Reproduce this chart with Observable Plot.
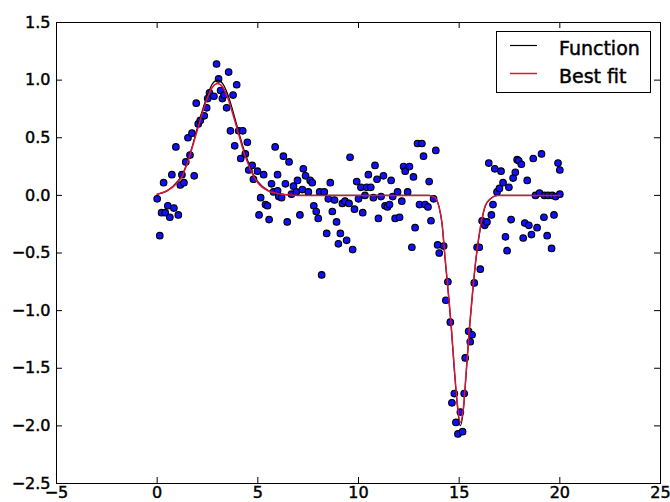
<!DOCTYPE html>
<html><head><meta charset="utf-8">
<script src="https://cdn.jsdelivr.net/npm/d3@7"></script>
<script src="https://cdn.jsdelivr.net/npm/@observablehq/plot@0.6"></script>
<style>
html,body{margin:0;padding:0;background:#fff;}
#wrap{position:relative;width:670px;height:502px;}
#wrap svg{display:block;}
#wrap text{stroke:#000;stroke-width:0.45px;}
#legend{position:absolute;left:0;top:0;pointer-events:none;}
</style></head><body><div id="wrap"></div>
<script>
// Scatter samples [x, y]
const scatter = [
[0.00,-0.03],[0.13,-0.35],[0.22,-0.15],[0.32,0.11],[0.40,-0.15],[0.53,-0.09],[0.63,-0.19],[0.73,0.18],[0.83,-0.11],[0.93,0.42],
[1.05,-0.17],[1.15,0.09],[1.23,0.18],[1.33,0.11],[1.42,0.29],[1.53,0.50],[1.63,0.35],[1.73,0.54],[1.84,0.17],[1.94,0.80],
[2.04,0.62],[2.14,0.65],[2.34,0.69],[2.46,0.76],[2.51,0.84],[2.60,0.89],[2.82,0.86],[2.95,1.14],[3.05,1.01],[3.15,0.91],
[3.24,0.84],[3.32,0.87],[3.45,0.76],[3.55,1.07],[3.64,0.56],[3.77,0.87],[3.85,0.43],[3.95,0.96],[4.05,0.56],[4.15,0.32],
[4.25,0.56],[4.38,0.36],[4.48,0.46],[4.55,0.22],[4.72,0.26],[4.78,0.14],[4.98,0.21],[5.06,-0.17],[5.14,-0.02],[5.29,0.18],
[5.38,-0.08],[5.48,-0.09],[5.56,-0.21],[5.68,0.10],[5.78,0.03],[5.86,0.42],[5.98,0.18],[5.98,0.04],[6.04,-0.01],[6.18,-0.02],
[6.27,0.34],[6.37,0.10],[6.46,-0.23],[6.55,0.29],
[6.67,0.01],[6.77,0.08],[6.91,0.03],[6.97,0.13],[7.09,-0.17],[7.21,0.05],[7.26,0.23],[7.37,0.17],[7.51,0.03],[7.60,0.13],
[7.70,0.11],[7.78,-0.09],[7.90,-0.14],[8.00,-0.20],[8.07,0.03],[8.17,-0.69],[8.30,0.03],[8.42,-0.33],[8.50,-0.03],[8.60,0.11],
[8.70,-0.14],[8.81,-0.04],[8.91,-0.23],[9.00,-0.42],[9.10,-0.33],[9.20,-0.07],[9.33,-0.05],[9.41,-0.39],[9.53,-0.07],[9.58,0.33],
[9.71,-0.47],[9.80,-0.12],[9.91,0.12],[10.00,-0.03],[10.12,0.07],[10.21,-0.15],[10.32,0.00],[10.41,0.07],[10.49,0.18],[10.61,0.07],
[10.74,-0.02],[10.82,0.26],[10.92,0.14],[10.99,-0.20],[11.12,-0.01],[11.24,0.17],[11.32,-0.09],[11.44,-0.10],[11.54,-0.08],[11.62,0.13],
[11.70,-0.01],[11.82,-0.20],[11.94,0.03],[12.04,-0.19],[12.15,-0.05],[12.24,0.25],[12.32,0.21],[12.44,0.03],[12.53,0.25],[12.65,-0.45],
[12.73,0.16],[12.81,-0.28],[12.93,0.45],[13.03,-0.08],[13.15,0.45],[13.23,0.34],[13.31,-0.08],[13.45,-0.10],[13.51,0.12],[13.60,-0.22],
[13.73,-0.03],[13.84,0.39],
[13.93,-0.43],[14.01,-0.50],[14.23,-0.44],[14.34,-0.91],[14.44,-0.75],[14.56,-1.10],[14.64,-1.80],[14.76,-1.72],[14.84,-1.97],[14.94,-2.07],
[15.06,-1.88],[15.17,-2.05],[15.25,-1.72],[15.30,-1.41],[15.47,-1.18],[15.55,-1.27],[15.64,-1.21],[15.75,-0.76],[15.89,-0.45],[16.00,-0.45],
[16.05,-0.64],[16.14,-0.22],[16.27,-0.26],[16.38,-0.23],[16.47,0.28],[16.60,-0.17],[16.68,-0.08],[16.77,0.23],[16.88,0.03],[17.00,0.06],
[17.08,0.21],[17.18,0.11],[17.30,-0.36],[17.38,-0.48],[17.47,0.07],[17.58,-0.21],[17.68,0.15],[17.79,0.20],[17.88,0.31],[17.96,0.30],
[18.09,0.27],[18.18,-0.37],[18.26,-0.24],[18.38,0.13],[18.46,-0.26],[18.59,-0.34],[18.68,0.32],[18.79,0.00],[18.87,-0.28],[18.99,0.02],
[19.09,0.36],[19.21,-0.19],[19.24,0.00],[19.37,-0.35],[19.42,0.00],[19.59,-0.46],[19.62,0.00],[19.71,-0.17],[19.79,-0.01],[19.91,0.28],
[20.00,0.01],[20.00,0.22]
];

// Curves
const curveX    = [0,0.5,1,1.25,1.5,1.75,2,2.25,2.5,2.75,3,3.25,3.5,3.75,4,4.25,4.5,4.75,5,5.5,6,6.5,7,8,9,10,11,12,13,13.5,13.8,14,14.15,14.3,14.45,14.6,14.75,14.9,15.05,15.2,15.35,15.5,15.65,15.8,15.95,16.1,16.3,16.55,16.9,17.5,18,19,20];
const functionY = [0.01,0.04,0.12,0.18,0.29,0.43,0.59,0.74,0.87,0.97,1.00,0.97,0.88,0.74,0.58,0.43,0.30,0.19,0.12,0.045,0.015,0.005,0,0,0,0,0,0,0,0,-0.02,-0.10,-0.25,-0.55,-0.83,-1.13,-1.49,-1.81,-2.00,-1.88,-1.54,-1.18,-0.88,-0.61,-0.40,-0.24,-0.09,-0.03,0,0,0,0,0];
const fitY      = [0.01,0.04,0.11,0.17,0.28,0.42,0.57,0.72,0.85,0.94,0.97,0.94,0.85,0.71,0.56,0.41,0.28,0.18,0.11,0.04,0.015,0.005,0,0,0,0,0,0,0,0,-0.02,-0.10,-0.24,-0.54,-0.82,-1.12,-1.48,-1.79,-1.97,-1.86,-1.53,-1.17,-0.87,-0.60,-0.39,-0.23,-0.09,-0.03,0,0,0,0,0];

const xTicks = [-5,0,5,10,15,20,25];
const xTickLabels = ["\u22125","0","5","10","15","20","25"];
const yTicks = [1.5,1,0.5,0,-0.5,-1,-1.5,-2,-2.5];
const yTickLabels = ["1.5","1.0","0.5","0.0","\u22120.5","\u22121.0","\u22121.5","\u22122.0","\u22122.5"];
const legendLabels = ["Function","Best fit"];
const legendColors = ["#000000","#dc143c"];

const W = 670, H = 502, mL = 56, mR = 10, mT = 22, mB = 19;
const fw = W - mL - mR, fh = H - mT - mB, tick = 6;

const pts = scatter.map(([x, y]) => ({x, y}));
const curve = curveX.map((x, i) => ({x, fn: functionY[i], fit: fitY[i]}));

const chart = Plot.plot({
  width: W, height: H,
  marginLeft: mL, marginRight: mR, marginTop: mT, marginBottom: mB,
  style: {fontFamily: "DejaVu Sans", fontSize: "16px", color: "black", background: "white", overflow: "visible"},
  x: {domain: [-5, 25], label: null},
  y: {domain: [-2.5, 1.5], label: null},
  marks: [
    Plot.dot(pts, {x: "x", y: "y", r: 3.3, fill: "#1010ff", stroke: "black", strokeWidth: 1.1}),
    Plot.line(curve, {x: "x", y: "fn", stroke: "black", strokeWidth: 1.2, curve: "monotone-x"}),
    Plot.line(curve, {x: "x", y: "fit", stroke: legendColors[1], strokeWidth: 1.5, curve: "monotone-x"}),
    Plot.frame({stroke: "black", strokeWidth: 1}),
    Plot.ruleX(xTicks, {x: d => d, insetTop: fh - tick, stroke: "black"}),
    Plot.ruleX(xTicks, {x: d => d, insetBottom: fh - tick, stroke: "black"}),
    Plot.ruleY(yTicks, {y: d => d, insetRight: fw - tick, stroke: "black"}),
    Plot.ruleY(yTicks, {y: d => d, insetLeft: fw - tick, stroke: "black"}),
    Plot.axisX(xTicks, {tickSize: 0, tickPadding: 3, tickFormat: d => xTickLabels[xTicks.indexOf(d)]}),
    Plot.axisY(yTicks, {tickSize: 0, tickPadding: 6, tickFormat: d => yTickLabels[yTicks.indexOf(d)]})
  ]
});
const wrap = document.getElementById("wrap");
wrap.appendChild(chart);

// Legend inside the axes (upper right)
const ns = "http://www.w3.org/2000/svg";
const lg = document.createElementNS(ns, "svg");
lg.setAttribute("id", "legend");
lg.setAttribute("width", W); lg.setAttribute("height", H);
const box = document.createElementNS(ns, "rect");
box.setAttribute("x", 496.5); box.setAttribute("y", 31.5);
box.setAttribute("width", 154); box.setAttribute("height", 61);
box.setAttribute("fill", "white"); box.setAttribute("stroke", "black");
lg.appendChild(box);
legendLabels.forEach((lab, i) => {
  const yy = 45.5 + i * 28;
  const ln = document.createElementNS(ns, "line");
  ln.setAttribute("x1", 510); ln.setAttribute("x2", 537);
  ln.setAttribute("y1", yy); ln.setAttribute("y2", yy);
  ln.setAttribute("stroke", legendColors[i]); ln.setAttribute("stroke-width", i ? 1.5 : 1.2);
  lg.appendChild(ln);
  const t = document.createElementNS(ns, "text");
  t.setAttribute("x", 559); t.setAttribute("y", yy + 9);
  t.setAttribute("font-family", "DejaVu Sans"); t.setAttribute("font-size", 19);
  t.textContent = lab;
  lg.appendChild(t);
});
wrap.appendChild(lg);
</script></body></html>
